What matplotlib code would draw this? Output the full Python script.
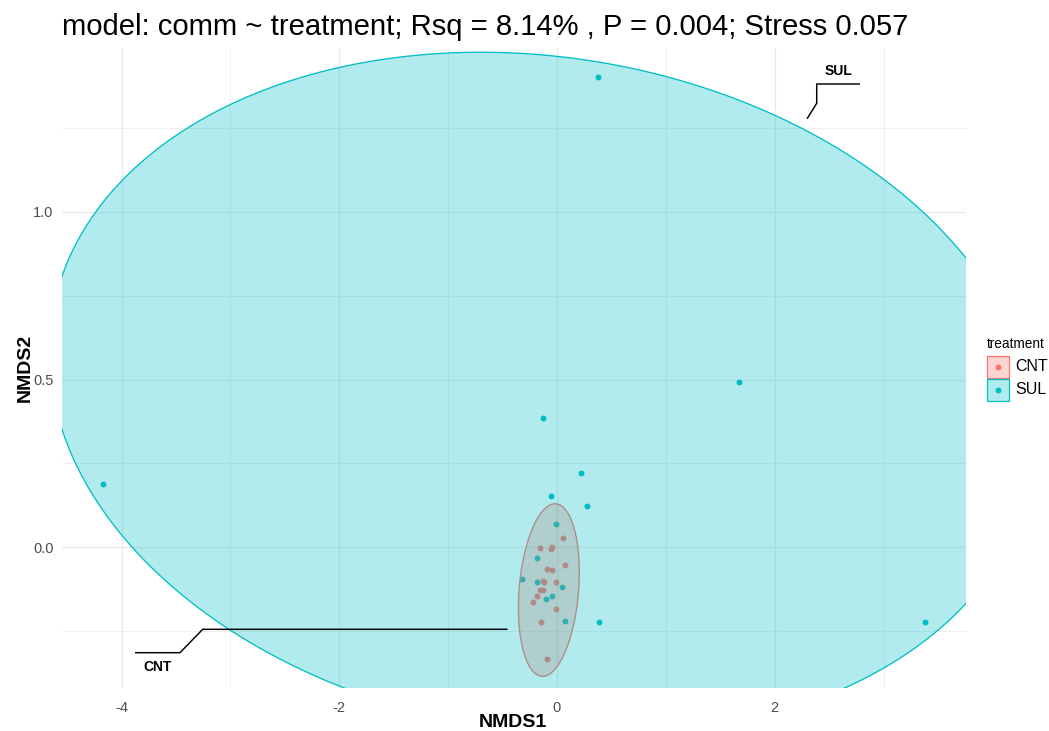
import numpy as np
import matplotlib
matplotlib.use("Agg")
import matplotlib.pyplot as plt
from matplotlib.patches import Polygon, Rectangle
from matplotlib.lines import Line2D

plt.rcParams['font.family'] = ['Liberation Sans', 'DejaVu Sans']
plt.rcParams['axes.unicode_minus'] = False

# ---------------- data ----------------
groups = ["CNT", "SUL"]
group_colors = ["#F8766D", "#00BFC4"]

cnt_x = [0.055, -0.153, -0.055, -0.043, 0.070, -0.095, -0.049, -0.131, -0.117,
         -0.009, -0.153, -0.126, -0.183, -0.217, -0.009, -0.150, -0.089]
cnt_y = [0.028, -0.001, -0.004, 0.002, -0.053, -0.065, -0.069, -0.100, -0.103,
         -0.103, -0.129, -0.129, -0.146, -0.164, -0.183, -0.223, -0.333]

sul_x = [0.376, 1.670, -0.128, 0.220, -4.170, -0.055, 0.275, 3.380, 0.385,
         -0.012, -0.186, -0.324, -0.183, 0.043, -0.049, -0.101, 0.073]
sul_y = [1.402, 0.494, 0.384, 0.220, 0.190, 0.152, 0.122, -0.223, -0.223,
         0.068, -0.033, -0.095, -0.103, -0.118, -0.146, -0.154, -0.219]

x_ticks = [-4, -2, 0, 2]
y_ticks = [0.0, 0.5, 1.0]
title = "model: comm ~ treatment; Rsq = 8.14% , P = 0.004; Stress 0.057"
x_label = "NMDS1"
y_label = "NMDS2"
legend_title = "treatment"

# ---------------- figure ----------------
W, H = 1049, 731
fig = plt.figure(figsize=(W / 100, H / 100), dpi=100)
fig.patch.set_facecolor("white")
ax = fig.add_axes([62 / W, 1 - 688 / H, (966 - 62) / W, (688 - 48) / H])

all_x = np.array(cnt_x + sul_x)
all_y = np.array(cnt_y + sul_y)
rx = all_x.max() - all_x.min()
ry = all_y.max() - all_y.min()
ax.set_xlim(all_x.min() - 0.05 * rx, all_x.max() + 0.05 * rx)
ax.set_ylim(all_y.min() - 0.05 * ry, all_y.max() + 0.05 * ry)

# grid
ax.set_xticks(x_ticks)
ax.set_yticks(y_ticks)
ax.set_xticks([-3, -1, 1, 3], minor=True)
ax.set_yticks([-0.25, 0.25, 0.75, 1.25], minor=True)
ax.grid(which="major", color="#EBEBEB", linewidth=1.0)
ax.grid(which="minor", color="#EBEBEB", linewidth=0.55)
ax.set_axisbelow(True)
for s in ax.spines.values():
    s.set_visible(False)
ax.tick_params(which="both", length=0)
ax.tick_params(axis="x", pad=9, labelsize=10.5, labelcolor="#4D4D4D")
ax.tick_params(axis="y", pad=6, labelsize=10.5, labelcolor="#4D4D4D")
ax.set_xticklabels([f"{t:d}" for t in x_ticks])
ax.set_yticklabels([f"{t:.1f}" for t in y_ticks])


def fx(px):
    return px / W


def fy(py):
    return 1 - py / H


fig.text(fx(513), fy(727), x_label, fontsize=14, fontweight="bold",
         ha="center", va="baseline")
fig.text(fx(25), fy(368), y_label, fontsize=14, fontweight="bold",
         ha="center", va="center", rotation=90)

fig.text(fx(62), fy(35), title, fontsize=21.1, ha="left", va="baseline")

# points
data = {"CNT": (cnt_x, cnt_y), "SUL": (sul_x, sul_y)}
for g, col in zip(groups, group_colors):
    ax.scatter(data[g][0], data[g][1], s=18, color=col, linewidths=0, zorder=2)


# ---------------- enclosing ellipses (Khachiyan MVEE in device space) ----------------
def mvee(P, tol=1e-5):
    N, d = P.shape
    Q = np.vstack([P.T, np.ones(N)])
    u = np.ones(N) / N
    err = 1.0
    it = 0
    while err > tol and it < 5000:
        X = Q @ np.diag(u) @ Q.T
        M = np.einsum("ij,ji->i", Q.T @ np.linalg.inv(X), Q)
        j = np.argmax(M)
        step = (M[j] - d - 1) / ((d + 1) * (M[j] - 1))
        new_u = (1 - step) * u
        new_u[j] += step
        err = np.linalg.norm(new_u - u)
        u = new_u
        it += 1
    c = P.T @ u
    A = np.linalg.inv(P.T @ np.diag(u) @ P - np.outer(c, c)) / d
    return c, A


T = ax.transData
expand_px = 15.0
ellipse_disp = {}
for g in groups:
    P = T.transform(np.column_stack(data[g]))
    c, A = mvee(P)
    evals, evecs = np.linalg.eigh(A)
    semi = 1 / np.sqrt(evals) + expand_px
    t = np.linspace(0, 2 * np.pi, 400)
    pts = c + (evecs @ np.vstack([semi[0] * np.cos(t), semi[1] * np.sin(t)])).T
    ellipse_disp[g] = pts

for g, col in zip(groups, group_colors):
    pts = T.inverted().transform(ellipse_disp[g])
    ax.add_patch(Polygon(pts, closed=True, facecolor=col, alpha=0.3,
                         edgecolor="none", zorder=3))
    ax.add_patch(Polygon(pts, closed=True, facecolor="none", edgecolor=col,
                         linewidth=0.95, zorder=3))


# ---------------- mark labels ----------------
def pix(px, py):
    return np.array([px, H - py])


def connector(g, elbow, cap=11.0):
    pts = ellipse_disp[g]
    d = np.linalg.norm(pts - elbow, axis=1)
    p = pts[np.argmin(d)]
    v = elbow - p
    return p + v / np.linalg.norm(v) * cap


def draw_path(disp_pts):
    dp = T.inverted().transform(np.array(disp_pts))
    ax.plot(dp[:, 0], dp[:, 1], color="black", linewidth=1.05, zorder=5,
            solid_capstyle="butt")


# SUL label
e1 = pix(816.7, 103.3)
draw_path([pix(860, 84), pix(816.7, 84), e1, connector("SUL", e1)])
tp = T.inverted().transform(pix(838, 75))
ax.text(tp[0], tp[1], "SUL", fontsize=10, fontweight="bold", ha="center",
        va="baseline", zorder=6)

# CNT label
e2 = pix(202.7, 629.3)
end2 = connector("CNT", e2)
draw_path([pix(135, 652.7), pix(180, 652.7), e2, np.array([end2[0], e2[1]])])
tp = T.inverted().transform(pix(157.5, 671))
ax.text(tp[0], tp[1], "CNT", fontsize=10, fontweight="bold", ha="center",
        va="baseline", zorder=6)

# ---------------- legend (manual) ----------------
fig.text(fx(987), fy(344), legend_title, fontsize=9.8, ha="left", va="center")
key_w, key_h = 22, 22
for i, (g, col) in enumerate(zip(groups, group_colors)):
    top = 356 + i * (key_h + 1)
    fig.add_artist(Rectangle((fx(987), fy(top + key_h)), key_w / W, key_h / H,
                             transform=fig.transFigure, facecolor=col, alpha=0.3,
                             edgecolor="none"))
    fig.add_artist(Rectangle((fx(987), fy(top + key_h)), key_w / W, key_h / H,
                             transform=fig.transFigure, facecolor="none",
                             edgecolor=col, linewidth=0.9))
    fig.add_artist(Line2D([fx(987 + key_w / 2)], [fy(top + key_h / 2)],
                          transform=fig.transFigure, marker="o", markersize=4.3,
                          color=col, markeredgewidth=0, linestyle="none"))
    fig.text(fx(1015), fy(top + key_h / 2), g, fontsize=11.5, ha="left",
             va="center")

fig.savefig("out.png", dpi=100)
